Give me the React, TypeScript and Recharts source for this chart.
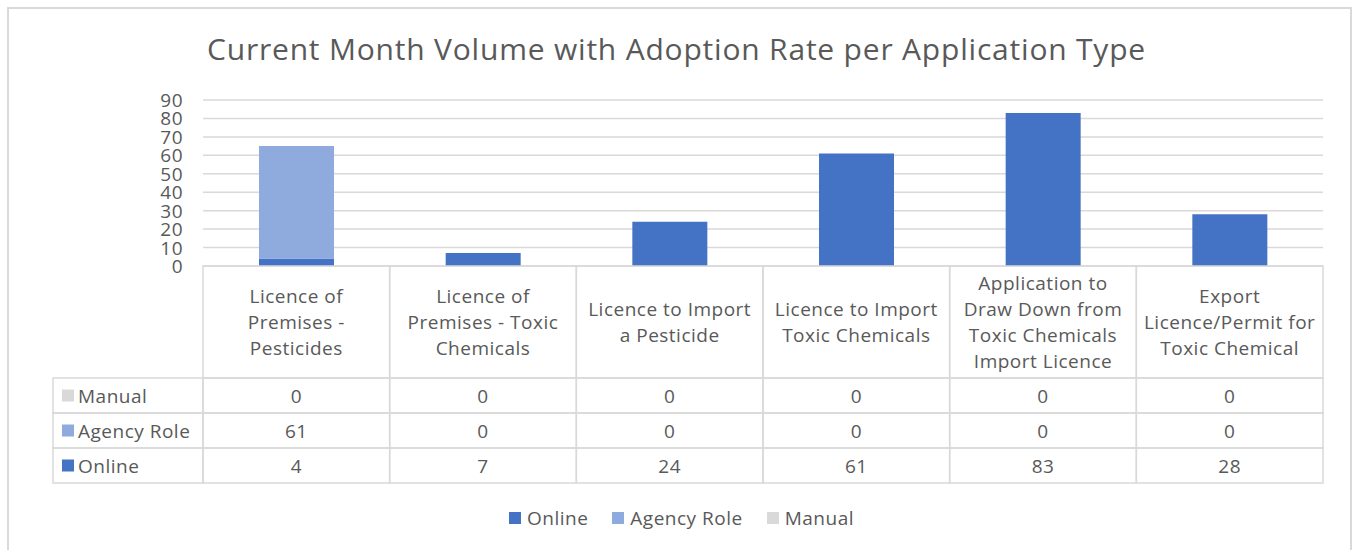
import { BarChart, Bar, XAxis, YAxis, CartesianGrid, Legend } from 'recharts';

const categories = [
  'Licence of Premises - Pesticides',
  'Licence of Premises - Toxic Chemicals',
  'Licence to Import a Pesticide',
  'Licence to Import Toxic Chemicals',
  'Application to Draw Down from Toxic Chemicals Import Licence',
  'Export Licence/Permit for Toxic Chemical',
];

// how Excel wrapped the category names in the data table
const categoryLines = [
  ['Licence of', 'Premises -', 'Pesticides'],
  ['Licence of', 'Premises - Toxic', 'Chemicals'],
  ['Licence to Import', 'a Pesticide'],
  ['Licence to Import', 'Toxic Chemicals'],
  ['Application to', 'Draw Down from', 'Toxic Chemicals', 'Import Licence'],
  ['Export', 'Licence/Permit for', 'Toxic Chemical'],
];

const online = [4, 7, 24, 61, 83, 28];
const agencyRole = [61, 0, 0, 0, 0, 0];
const manual = [0, 0, 0, 0, 0, 0];

const yTicks = [0, 10, 20, 30, 40, 50, 60, 70, 80, 90];

const series = [
  { key: 'online', name: 'Online', color: '#4472C4', values: online },
  { key: 'agencyRole', name: 'Agency Role', color: '#8FAADC', values: agencyRole },
  { key: 'manual', name: 'Manual', color: '#D9D9D9', values: manual },
];

const data = categories.map((c, i) => ({
  category: c,
  online: online[i],
  agencyRole: agencyRole[i],
  manual: manual[i],
}));

const W = 1353;
const H = 550;
const FONT = '"Open Sans", sans-serif';
const TEXT = '#595959';
const LINE = '#D9D9D9';
const FS = 19;
const LS = 0.5;

const MARGIN = { top: 100, right: 30, bottom: 67, left: 143 };
const Y_WIDTH = 60;
const X_HEIGHT = 217;
const PLOT_W = W - MARGIN.left - Y_WIDTH - MARGIN.right;
const BAND = PLOT_W / categories.length;

const HEAD_H = 112;
const ROW_H = 35;
const KEY_W = 150;

// table rows, top to bottom (reverse of the stack)
const tableRows = [...series].reverse();

function YTick(props: any) {
  const { x, y, payload } = props;
  return (
    <text x={x} y={y} textAnchor="end" dominantBaseline="central" fontFamily={FONT} fontSize={19} letterSpacing={0.5} fill={TEXT}>
      {payload.value}
    </text>
  );
}

function TableTick(props: any) {
  const { x, y, payload } = props;
  const i = categories.indexOf(payload.value);
  const left = x - BAND / 2;
  const lines = categoryLines[i];
  const midHead = y + HEAD_H / 2;
  const txt = { fontFamily: FONT, fontSize: FS, letterSpacing: LS, fill: TEXT };
  return (
    <g>
      <rect x={left} y={y} width={BAND} height={HEAD_H} fill="none" stroke={LINE} strokeWidth={1.5} />
      {lines.map((l, k) => (
        <text
          key={k}
          x={x}
          y={midHead + (k - (lines.length - 1) / 2) * 26}
          textAnchor="middle"
          dominantBaseline="central"
          {...txt}
        >
          {l}
        </text>
      ))}
      {tableRows.map((s, r) => {
        const top = y + HEAD_H + r * ROW_H;
        return (
          <g key={s.key}>
            <rect x={left} y={top} width={BAND} height={ROW_H} fill="none" stroke={LINE} strokeWidth={1.5} />
            <text x={x} y={top + ROW_H / 2} textAnchor="middle" dominantBaseline="central" {...txt}>
              {s.values[i]}
            </text>
            {i === 0 && (
              <g>
                <rect x={left - KEY_W} y={top} width={KEY_W} height={ROW_H} fill="none" stroke={LINE} strokeWidth={1.5} />
                <rect x={left - KEY_W + 9} y={top + ROW_H / 2 - 6} width={12} height={12} fill={s.color} />
                <text x={left - KEY_W + 25} y={top + ROW_H / 2} dominantBaseline="central" {...txt}>
                  {s.name}
                </text>
              </g>
            )}
          </g>
        );
      })}
    </g>
  );
}

function LegendContent() {
  return (
    <div
      style={{
        display: 'flex',
        justifyContent: 'center',
        gap: 24,
        fontFamily: FONT,
        fontSize: FS,
        letterSpacing: LS,
        color: TEXT,
        paddingLeft: 10,
      }}
    >
      {series.map(s => (
        <div key={s.key} style={{ display: 'flex', alignItems: 'center', gap: 6 }}>
          <span style={{ width: 12, height: 12, background: s.color, display: 'inline-block' }} />
          <span>{s.name}</span>
        </div>
      ))}
    </div>
  );
}

export default function App() {
  return (
    <div style={{ position: 'absolute', left: 0, top: 0, width: W, height: H, background: '#fff', overflow: 'hidden' }}>
      <div
        style={{
          position: 'absolute',
          left: 7,
          top: 7,
          width: 1345,
          height: 560,
          border: `2px solid ${LINE}`,
          boxSizing: 'border-box',
        }}
      />
      <div
        style={{
          position: 'absolute',
          left: 0,
          top: 29,
          width: W,
          textAlign: 'center',
          fontFamily: FONT,
          fontSize: 30,
          letterSpacing: 0.8,
          color: TEXT,
          lineHeight: '40px',
        }}
      >
        Current Month Volume with Adoption Rate per Application Type
      </div>
      <div style={{ position: 'absolute', left: 0, top: 0 }}>
        <BarChart width={W} height={H} data={data} margin={MARGIN} barCategoryGap="30%">
          <CartesianGrid vertical={false} stroke={LINE} strokeWidth={1.5} />
          <XAxis
            dataKey="category"
            height={X_HEIGHT}
            interval={0}
            tickLine={false}
            axisLine={false}
            tickSize={0}
            tickMargin={0}
            tick={<TableTick />}
          />
          <YAxis
            width={Y_WIDTH}
            domain={[0, 90]}
            ticks={yTicks}
            interval={0}
            axisLine={false}
            tickLine={false}
            tickSize={0}
            tickMargin={20}
            tick={<YTick />}
          />
          <Legend
            layout="horizontal"
            verticalAlign="middle"
            align="center"
            wrapperStyle={{ top: 505, left: 0, width: W }}
            content={<LegendContent />}
          />
          {series.map(s => (
            <Bar key={s.key} dataKey={s.key} name={s.name} stackId="a" fill={s.color} isAnimationActive={false} />
          ))}
        </BarChart>
      </div>
    </div>
  );
}
